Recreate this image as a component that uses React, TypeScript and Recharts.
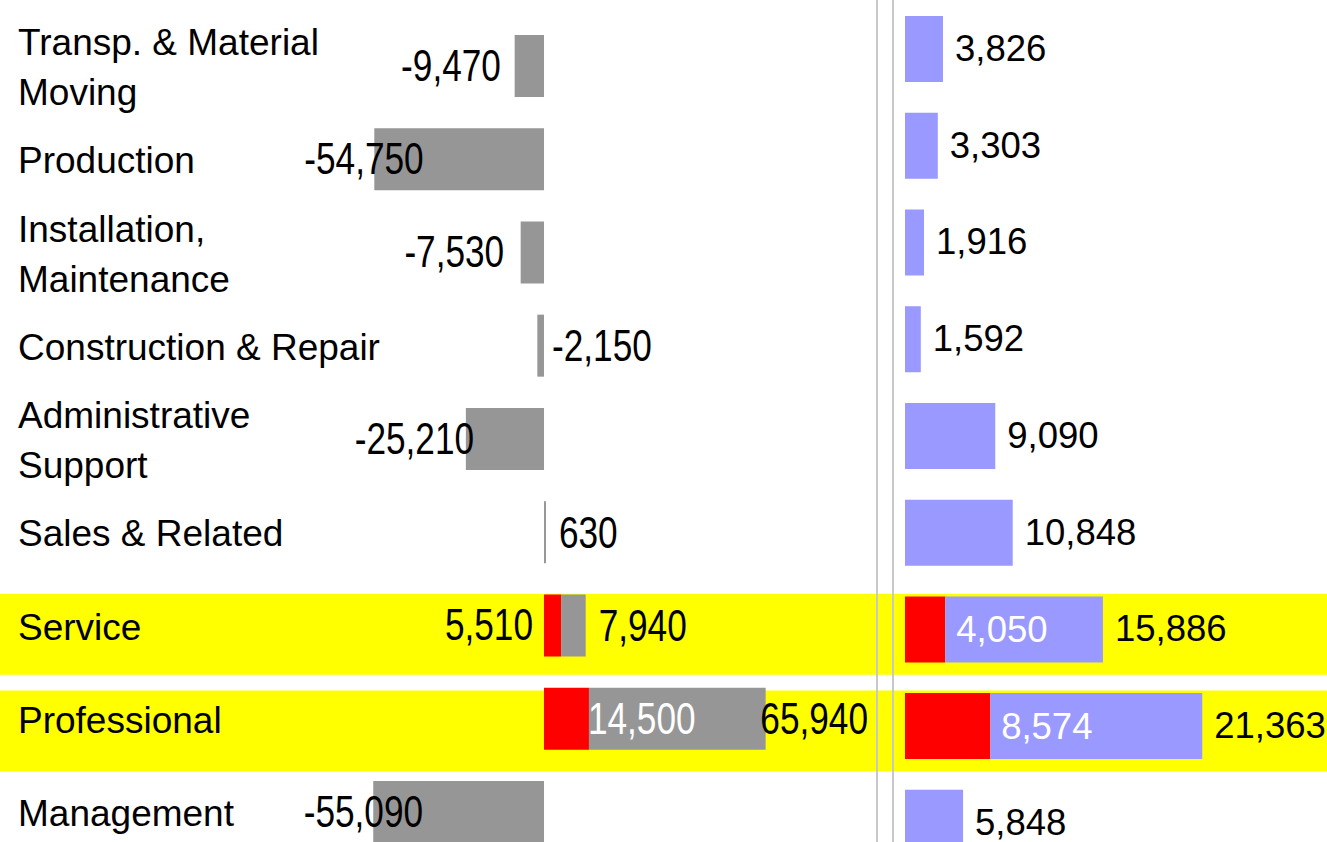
import React from "react";
import { BarChart, Bar, XAxis, YAxis, LabelList } from "recharts";

// ---------- data ----------
const categories = [
  "Transp. & Material\nMoving",
  "Production",
  "Installation,\nMaintenance",
  "Construction & Repair",
  "Administrative\nSupport",
  "Sales & Related",
  "Service",
  "Professional",
  "Management",
];
// left panel: change (gray) with highlighted part (red)
const changeValues = [-9470, -54750, -7530, -2150, -25210, 630, 7940, 57000, -55090];
const changeLabels = ["-9,470", "-54,750", "-7,530", "-2,150", "-25,210", "630", "7,940", "65,940", "-55,090"];
const changeHighlight: (number | null)[] = [null, null, null, null, null, null, 5510, 14500, null];
// right panel: level (blue) with highlighted part (red)
const levelValues = [3826, 3303, 1916, 1592, 9090, 10848, 15886, 21363, 5848];
const levelHighlight: (number | null)[] = [null, null, null, null, null, null, 4050, 8574, null];
const highlightedRows = ["Service", "Professional"];

const rows = categories.map((name, i) => ({
  name,
  change: changeValues[i],
  changeHi: changeHighlight[i],
  level: levelValues[i],
  levelHi: levelHighlight[i],
  band: highlightedRows.includes(name) ? 1 : null,
}));

// ---------- styles ----------
const FONT = "'Liberation Sans', Arial, Helvetica, sans-serif";
const GRAY = "#969696";
const RED = "#ff0000";
const BLUE = "#9999ff";
const YELLOW = "#ffff00";
const DIVIDER = "#c8c8c8";
const CAT_FS = 37;
const LEFT_FS = 44;
const LEFT_SX = 0.8;
const RIGHT_FS = 36.5;
const LEFT_W = 876;

const fmt = (v: number) => v.toLocaleString("en-US");

// approximate Arial advance widths (em units) for digits and punctuation
const charW = (c: string) => (c === "," || c === "." ? 0.278 : c === "-" ? 0.333 : 0.556);
const condensedWidth = (t: string) => t.split("").reduce((s, c) => s + charW(c), 0) * LEFT_FS * LEFT_SX;

const condensed = (x: number, cy: number, anchor: string, text: string, fill: string) => (
  <text
    transform={`translate(${x},${cy + LEFT_FS * 0.355}) scale(${LEFT_SX},1)`}
    textAnchor={anchor as any}
    fontSize={LEFT_FS}
    fill={fill}
    fontFamily={FONT}
  >
    {text}
  </text>
);

const plain = (x: number, cy: number, anchor: string, text: string, fill: string) => (
  <text
    x={x}
    y={cy + RIGHT_FS * 0.355}
    textAnchor={anchor as any}
    fontSize={RIGHT_FS}
    fill={fill}
    fontFamily={FONT}
  >
    {text}
  </text>
);

const ext = (p: any) => {
  const x = Number(p.x), w = Number(p.width);
  return { left: Math.min(x, x + w), right: Math.max(x, x + w), w: Math.abs(w), cy: Number(p.y) + Number(p.height) / 2 };
};

const ChangeLabel = (p: any) => {
  const i = p.index;
  if (i == null || changeValues[i] == null) return null;
  const v = changeValues[i];
  const { left, right, w, cy } = ext(p);
  const text = changeLabels[i];
  if (v >= 0) {
    const x = Math.min(right + 13, LEFT_W - 8 - condensedWidth(text));
    return condensed(x, cy, "start", text, "#000");
  }
  if (w < 10) return condensed(right + 8, cy, "start", text, "#000");
  return condensed(left + 0.45 * w - 27, cy - 1, "end", text, "#000");
};

const ChangeHiLabel = (p: any) => {
  const i = p.index;
  if (i == null) return null;
  const hv = changeHighlight[i];
  if (!hv) return null;
  const gv = changeValues[i];
  const { left, w, cy } = ext(p);
  const ppu = w / Math.abs(gv);
  const grayStart = left;
  const redLeft = grayStart - hv * ppu;
  const text = fmt(hv);
  if (w > 100) return condensed(grayStart - 1, cy, "start", text, "#fff");
  return condensed(redLeft - 11, cy - 1, "end", text, "#000");
};

const CategoryLabel = (p: any) => {
  const i = p.index;
  if (i == null) return null;
  const lines = categories[i].split("\n");
  const LH = 50;
  const { cy } = ext(p);
  const cy0 = cy + 1 - ((lines.length - 1) * LH) / 2;
  return (
    <g>
      {lines.map((ln, k) => (
        <text
          key={k}
          x={18}
          y={cy0 + k * LH + CAT_FS * 0.355}
          fontSize={CAT_FS}
          fill="#000"
          textAnchor="start"
          fontFamily={FONT}
        >
          {ln}
        </text>
      ))}
    </g>
  );
};

const LevelLabel = (p: any) => {
  const i = p.index;
  if (i == null) return null;
  const { right, cy } = ext(p);
  return plain(right + 12, cy - 1, "start", fmt(levelValues[i]), "#000");
};

const LevelHiLabel = (p: any) => {
  const i = p.index;
  if (i == null) return null;
  const hv = levelHighlight[i];
  if (!hv) return null;
  const { left, cy } = ext(p);
  return plain(left + 11, cy, "start", fmt(hv), "#fff");
};

export default function App() {
  return (
    <div
      style={{
        position: "absolute",
        left: 0,
        top: 0,
        width: 1327,
        height: 842,
        overflow: "hidden",
        background: "#fff",
        fontFamily: FONT,
      }}
    >
      {/* highlight bands */}
      <div style={{ position: "absolute", left: 0, top: 0 }}>
        <BarChart
          width={1327}
          height={876}
          data={rows}
          layout="vertical"
          margin={{ top: 5.4, right: 0, bottom: 0, left: 0 }}
        >
          <XAxis type="number" domain={[0, 1]} hide allowDataOverflow />
          <YAxis type="category" dataKey="name" hide />
          <Bar dataKey="band" fill={YELLOW} barSize={81} isAnimationActive={false} />
        </BarChart>
      </div>

      {/* left panel: change */}
      <div
        style={{
          position: "absolute",
          left: 0,
          top: 0,
          width: LEFT_W,
          height: 842,
          borderRight: `2px solid ${DIVIDER}`,
          overflow: "hidden",
        }}
      >
        <BarChart
          width={LEFT_W}
          height={860}
          data={rows}
          layout="vertical"
          stackOffset="sign"
          margin={{ top: 18.9, right: 0, bottom: 1.8, left: 0 }}
        >
          <XAxis type="number" domain={[-175500, 107100]} hide allowDataOverflow />
          <YAxis type="category" dataKey="name" hide />
          <Bar dataKey="changeHi" stackId="c" fill={RED} barSize={62} isAnimationActive={false} />
          <Bar dataKey="change" stackId="c" fill={GRAY} barSize={62} isAnimationActive={false}>
            <LabelList dataKey="name" content={<CategoryLabel />} />
            <LabelList dataKey="change" content={<ChangeLabel />} />
            <LabelList dataKey="change" content={<ChangeHiLabel />} />
          </Bar>
        </BarChart>
      </div>

      {/* right panel: level */}
      <div
        style={{
          position: "absolute",
          left: 892,
          top: 0,
          width: 433,
          height: 842,
          borderLeft: `2px solid ${DIVIDER}`,
          overflow: "hidden",
        }}
      >
        <BarChart
          width={433}
          height={872}
          data={rows}
          layout="vertical"
          margin={{ top: 0.93, right: 0, bottom: 0.4, left: 11 }}
        >
          <XAxis type="number" domain={[0, 42500]} hide allowDataOverflow />
          <YAxis type="category" dataKey="name" hide />
          <Bar dataKey="levelHi" stackId="l" fill={RED} barSize={66} isAnimationActive={false} />
          <Bar dataKey="level" stackId="l" fill={BLUE} barSize={66} isAnimationActive={false}>
            <LabelList dataKey="level" content={<LevelLabel />} />
            <LabelList dataKey="level" content={<LevelHiLabel />} />
          </Bar>
        </BarChart>
      </div>
    </div>
  );
}
